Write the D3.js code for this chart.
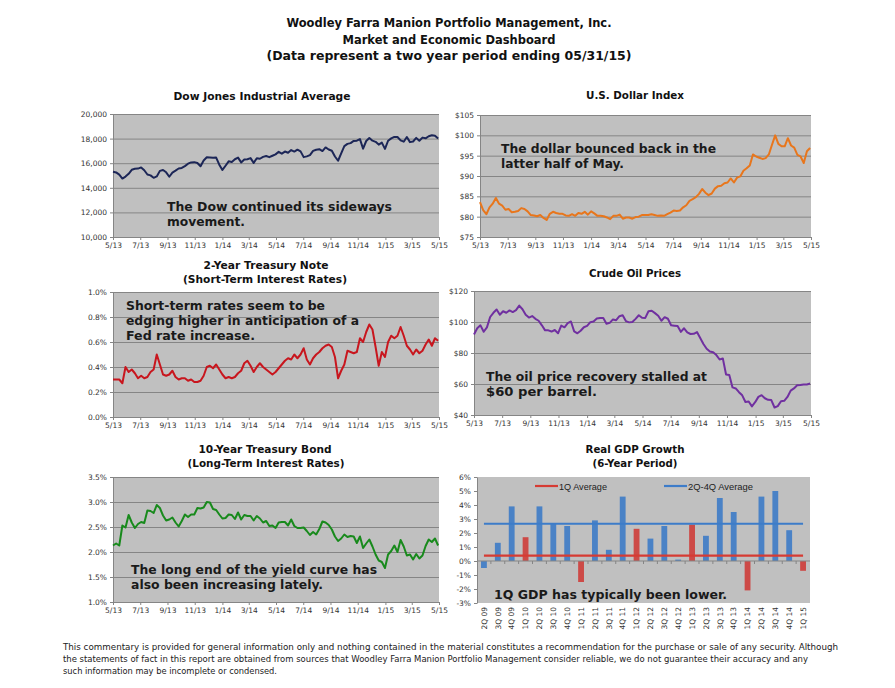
<!DOCTYPE html>
<html>
<head>
<meta charset="utf-8">
<script src="https://cdn.jsdelivr.net/npm/d3@7"></script>
<style>
  body { margin: 0; background: #fff; }
  text { font-family: "DejaVu Sans", Verdana, sans-serif; }
</style>
</head>
<body>
<svg id="dash" width="895" height="688"></svg>
<script>
// weekly closes, Friday 5/31/13 through Friday 5/29/15
let dowValues = [15300, 15250, 15070, 14750, 14910, 15136, 15464, 15543, 15560, 15658,
  15425, 15081, 15010, 14810, 14922, 15376, 15452, 15258, 14900, 15237,
  15399, 15570, 15615, 15762, 15961, 16064, 16086, 16020, 15755, 16221,
  16479, 16469, 16437, 16458, 15879, 15450, 15794, 16154, 16103, 16321,
  16452, 16065, 16302, 16323, 16412, 16027, 16408, 16361, 16512, 16583,
  16491, 16606, 16717, 16924, 16776, 16947, 16851, 17068, 16944, 17100,
  16961, 16493, 16553, 16663, 17001, 17098, 17137, 16988, 17280, 17113,
  17009, 16544, 16200, 16805, 17391, 17573, 17634, 17810, 17828, 17958,
  17180, 17805, 18053, 17833, 17737, 17511, 17673, 17165, 17825, 18019,
  18140, 18133, 17856, 17749, 18128, 17713, 17763, 18058, 17826, 18080,
  18024, 18191, 18272, 18232, 18011];

let dollarValues = [83.6, 81.6, 80.6, 82.3, 83.2, 84.6, 83.2, 82.7, 81.7, 81.9,
  81.1, 81.2, 81.4, 82.1, 81.9, 81.3, 80.4, 80.3, 80.1, 80.4,
  79.7, 79.2, 80.7, 81.2, 80.9, 80.7, 80.7, 80.3, 80.2, 80.6,
  80.2, 80.9, 80.7, 81.2, 80.5, 81.3, 80.8, 80.2, 80.2, 80.1,
  79.8, 79.4, 80.2, 80.2, 80.5, 79.5, 79.8, 79.8, 79.5, 79.9,
  80.0, 80.4, 80.4, 80.4, 80.6, 80.4, 80.2, 80.3, 80.2, 80.6,
  81.0, 81.5, 81.4, 81.5, 82.3, 82.8, 83.9, 84.3, 84.8, 85.6,
  86.8, 85.9, 85.3, 85.7, 86.9, 87.5, 87.6, 88.2, 88.4, 89.4,
  88.4, 89.6, 89.9, 91.3, 91.9, 92.6, 95.3, 94.8, 94.5, 94.2,
  94.4, 95.3, 97.7, 100.0, 97.9, 97.3, 97.3, 99.3, 97.5, 97.0,
  95.2, 94.8, 93.2, 96.1, 96.9];

let twoYearValues = [0.30, 0.30, 0.30, 0.27, 0.40, 0.36, 0.38, 0.35, 0.31, 0.33,
  0.31, 0.32, 0.36, 0.38, 0.50, 0.42, 0.34, 0.33, 0.34, 0.37,
  0.32, 0.30, 0.31, 0.31, 0.29, 0.30, 0.28, 0.28, 0.29, 0.33,
  0.40, 0.41, 0.39, 0.42, 0.38, 0.34, 0.31, 0.32, 0.31, 0.32,
  0.35, 0.37, 0.43, 0.45, 0.41, 0.36, 0.40, 0.43, 0.40, 0.38,
  0.36, 0.34, 0.36, 0.39, 0.42, 0.45, 0.47, 0.46, 0.50, 0.47,
  0.50, 0.55, 0.46, 0.42, 0.47, 0.50, 0.52, 0.55, 0.57, 0.58,
  0.56, 0.48, 0.31, 0.37, 0.42, 0.53, 0.52, 0.51, 0.52, 0.63,
  0.60, 0.68, 0.74, 0.70, 0.56, 0.41, 0.52, 0.48, 0.60, 0.65,
  0.63, 0.65, 0.72, 0.65, 0.57, 0.54, 0.50, 0.54, 0.51, 0.53,
  0.58, 0.62, 0.57, 0.63, 0.61];

let oilValues = [91.97, 96.00, 97.85, 93.69, 96.56, 103.22, 105.95, 108.05, 104.70, 106.94,
  105.97, 107.46, 106.42, 107.65, 110.53, 108.21, 104.67, 102.87, 103.84, 102.02,
  100.81, 97.85, 94.61, 94.60, 93.84, 94.84, 92.72, 97.65, 96.60, 99.32,
  100.32, 93.96, 92.72, 94.37, 96.64, 97.49, 99.88, 100.30, 102.20, 102.59,
  102.58, 98.89, 99.46, 101.67, 101.14, 103.74, 104.30, 100.60, 99.76, 99.99,
  102.02, 104.35, 102.71, 102.66, 106.91, 107.26, 105.74, 104.06, 100.83, 103.13,
  102.09, 97.88, 97.65, 97.35, 93.65, 95.96, 93.29, 92.27, 92.41, 93.54,
  89.74, 85.82, 82.75, 81.01, 80.54, 78.65, 75.82, 76.51, 66.15, 65.84,
  57.81, 57.13, 54.73, 52.69, 48.36, 48.69, 45.59, 48.24, 51.69, 52.78,
  50.81, 49.76, 49.61, 44.84, 45.72, 48.87, 49.14, 51.64, 55.74, 57.15,
  59.15, 59.39, 59.69, 59.72, 60.30];

let tenYearValues = [2.13, 2.17, 2.13, 2.53, 2.49, 2.74, 2.59, 2.48, 2.56, 2.60,
  2.58, 2.83, 2.82, 2.78, 2.94, 2.88, 2.73, 2.63, 2.65, 2.69,
  2.59, 2.51, 2.62, 2.75, 2.70, 2.75, 2.75, 2.88, 2.87, 2.89,
  3.00, 2.99, 2.86, 2.84, 2.75, 2.67, 2.68, 2.75, 2.74, 2.66,
  2.79, 2.65, 2.74, 2.72, 2.72, 2.63, 2.72, 2.67, 2.59, 2.62,
  2.52, 2.53, 2.48, 2.59, 2.60, 2.60, 2.53, 2.65, 2.52, 2.48,
  2.48, 2.49, 2.42, 2.34, 2.40, 2.35, 2.46, 2.61, 2.59, 2.54,
  2.45, 2.31, 2.22, 2.27, 2.35, 2.30, 2.32, 2.31, 2.18, 2.31,
  2.08, 2.17, 2.25, 2.11, 1.95, 1.83, 1.80, 1.68, 1.95, 2.02,
  2.13, 2.00, 2.24, 2.11, 1.93, 1.95, 1.85, 1.96, 1.87, 1.93,
  2.12, 2.25, 2.20, 2.27, 2.13];

// real GDP growth by quarter
let gdpQuarters = ["2Q 09", "3Q 09", "4Q 09", "1Q 10", "2Q 10", "3Q 10", "4Q 10", "1Q 11",
  "2Q 11", "3Q 11", "4Q 11", "1Q 12", "2Q 12", "3Q 12", "4Q 12", "1Q 13",
  "2Q 13", "3Q 13", "4Q 13", "1Q 14", "2Q 14", "3Q 14", "4Q 14", "1Q 15"];
let gdpValues = [-0.5, 1.3, 3.9, 1.7, 3.9, 2.7, 2.5, -1.5,
  2.9, 0.8, 4.6, 2.3, 1.6, 2.5, 0.1, 2.6,
  1.8, 4.5, 3.5, -2.1, 4.6, 5.0, 2.2, -0.7];

// tick labels
let dowTicks = [10000, 12000, 14000, 16000, 18000, 20000];
let dollarTicks = [75, 80, 85, 90, 95, 100, 105];
let twoYearTicks = [0, 0.2, 0.4, 0.6, 0.8, 1.0];
let oilTicks = [40, 60, 80, 100, 120];
let tenYearTicks = [1.0, 1.5, 2.0, 2.5, 3.0, 3.5];
let gdpTicks = [-3, -2, -1, 0, 1, 2, 3, 4, 5, 6];

let startDate = new Date(2013, 4, 31), endDate = new Date(2015, 4, 31);
// month-end labels every two months: 5/13, 7/13 ... 5/15
let dateTicks = d3.range(13).map(function(k) {
  return d3.timeDay.offset(d3.timeMonth.offset(new Date(2013, 5, 1), 2 * k), -1);
});

let svg = d3.select("#dash");
let BG = "#c0c0c0", GRID = "#858585", LABEL = "#333";
let NOTE_FONT = "'DejaVu Sans Condensed', 'DejaVu Sans', sans-serif";
let pct = function(d) { return d.toFixed(1) + "%"; };
let dollars = function(d) { return "$" + d; };

// text helper, squeezes to a measured width when given
function addText(g, x, y, str, size, opts) {
  opts = opts || {};
  let t = g.append("text")
    .attr("x", x).attr("y", y)
    .attr("font-size", size)
    .attr("font-weight", opts.weight || "normal")
    .attr("fill", opts.fill || "#111")
    .attr("text-anchor", opts.anchor || "start")
    .text(str);
  if (opts.family) t.style("font-family", opts.family);
  if (opts.width) t.attr("textLength", opts.width).attr("lengthAdjust", "spacingAndGlyphs");
  return t;
}

// page title
addText(svg, 449, 27, "Woodley Farra Manion Portfolio Management, Inc.", 11.5, {weight: "bold", anchor: "middle", width: 325});
addText(svg, 449, 43.5, "Market and Economic Dashboard", 11.5, {weight: "bold", anchor: "middle", width: 213});
addText(svg, 449, 60, "(Data represent a two year period ending 05/31/15)", 12, {weight: "bold", anchor: "middle", width: 365});

function styleAxis(g) {
  g.selectAll("path").attr("stroke", GRID);
  g.selectAll("line").attr("stroke", GRID);
  g.selectAll("text").attr("fill", LABEL).attr("font-size", 7.5).style("font-family", "'DejaVu Sans', Verdana, sans-serif");
}

function lineChart(cfg) {
  let b = cfg.box;
  let dates = cfg.values.map(function(v, i) { return d3.timeWeek.offset(startDate, i); });

  let x = d3.scaleTime().domain([startDate, endDate]).range([b.left, b.right]);
  let y = d3.scaleLinear().domain(cfg.yDomain).range([b.bottom, b.top]);

  svg.append("rect")
    .attr("x", b.left).attr("y", b.top)
    .attr("width", b.right - b.left).attr("height", b.bottom - b.top)
    .attr("fill", BG);

  // gridlines
  let grid = svg.append("g")
    .attr("transform", `translate(${b.left}, 0)`)
    .call(d3.axisLeft(y).tickValues(cfg.yTicks).tickSize(-(b.right - b.left)).tickFormat(""));
  grid.select(".domain").remove();
  grid.selectAll("line").attr("stroke", GRID);

  let yAxis = svg.append("g")
    .attr("transform", `translate(${b.left}, 0)`)
    .call(d3.axisLeft(y).tickValues(cfg.yTicks).tickSize(3).tickSizeOuter(0).tickFormat(cfg.yFormat));
  styleAxis(yAxis);

  let xAxis = svg.append("g")
    .attr("transform", `translate(0, ${b.bottom})`)
    .call(d3.axisBottom(x).tickValues(dateTicks).tickSize(3).tickSizeOuter(0).tickFormat(d3.timeFormat("%-m/%y")));
  styleAxis(xAxis);

  let line = d3.line()
    .x(function(d, i) { return x(dates[i]); })
    .y(function(d) { return y(d); });

  svg.append("path")
    .datum(cfg.values)
    .attr("d", line)
    .attr("fill", "none")
    .attr("stroke", cfg.color)
    .attr("stroke-width", 2)
    .attr("stroke-linejoin", "round");

  cfg.title.forEach(function(t) {
    addText(svg, t.x, t.y, t.text, 10.5, {weight: "bold", anchor: "middle", fill: "#111", width: t.w});
  });
  cfg.notes.forEach(function(n) {
    addText(svg, n.x, n.y, n.text, 13, {weight: "bold", fill: "#1a1a1a", family: NOTE_FONT, width: n.w});
  });
}

lineChart({
  box: {left: 113, top: 114, right: 439, bottom: 237},
  values: dowValues, yDomain: [10000, 20000], yTicks: dowTicks, yFormat: d3.format(","),
  color: "#1c2657",
  title: [{x: 262, y: 100, text: "Dow Jones Industrial Average", w: 177}],
  notes: [{x: 167, y: 210.5, text: "The Dow continued its sideways", w: 225},
          {x: 167, y: 225.5, text: "movement.", w: 78}]
});

lineChart({
  box: {left: 480, top: 115, right: 811, bottom: 237},
  values: dollarValues, yDomain: [75, 105], yTicks: dollarTicks, yFormat: dollars,
  color: "#e8761c",
  title: [{x: 635, y: 99, text: "U.S. Dollar Index", w: 98}],
  notes: [{x: 501, y: 152.5, text: "The dollar bounced back in the", w: 215},
          {x: 501, y: 167.5, text: "latter half of May.", w: 123}]
});

lineChart({
  box: {left: 113, top: 292, right: 439, bottom: 417},
  values: twoYearValues, yDomain: [0, 1.0], yTicks: twoYearTicks, yFormat: pct,
  color: "#c8161e",
  title: [{x: 266, y: 269, text: "2-Year Treasury Note", w: 125},
          {x: 265, y: 282.5, text: "(Short-Term Interest Rates)", w: 164}],
  notes: [{x: 126, y: 310, text: "Short-term rates seem to be", w: 199},
          {x: 126, y: 325, text: "edging higher in anticipation of a", w: 233},
          {x: 126, y: 340, text: "Fed rate increase.", w: 129}]
});

lineChart({
  box: {left: 474, top: 291, right: 811, bottom: 415},
  values: oilValues, yDomain: [40, 120], yTicks: oilTicks, yFormat: dollars,
  color: "#7030a0",
  title: [{x: 635, y: 277, text: "Crude Oil Prices", w: 92}],
  notes: [{x: 486, y: 381, text: "The oil price recovery stalled at", w: 221},
          {x: 486, y: 396, text: "$60 per barrel.", w: 111}]
});

lineChart({
  box: {left: 113, top: 477, right: 439, bottom: 602},
  values: tenYearValues, yDomain: [1.0, 3.5], yTicks: tenYearTicks, yFormat: pct,
  color: "#188a1c",
  title: [{x: 265, y: 453, text: "10-Year Treasury Bond", w: 133},
          {x: 266, y: 466.5, text: "(Long-Term Interest Rates)", w: 157}],
  notes: [{x: 131, y: 574, text: "The long end of the yield curve has", w: 246},
          {x: 131, y: 589, text: "also been increasing lately.", w: 192}]
});

// ---- Real GDP growth bar chart ----
let gb = {left: 477, top: 477, right: 810, bottom: 603};
let xg = d3.scaleBand().domain(gdpQuarters).range([gb.left, gb.right]).paddingInner(0.58).paddingOuter(0.29);
let yg = d3.scaleLinear().domain([-3, 6]).range([gb.bottom, gb.top]);

svg.append("rect")
  .attr("x", gb.left).attr("y", gb.top)
  .attr("width", gb.right - gb.left).attr("height", gb.bottom - gb.top)
  .attr("fill", BG);

let gdpY = svg.append("g")
  .attr("transform", `translate(${gb.left}, 0)`)
  .call(d3.axisLeft(yg).tickValues(gdpTicks).tickSize(3).tickSizeOuter(0).tickFormat(function(d) { return d + "%"; }));
styleAxis(gdpY);

function isQ1(q) { return q.indexOf("1Q") === 0; }

svg.append("g").selectAll("rect")
  .data(gdpValues)
  .join("rect")
  .attr("x", function(d, i) { return xg(gdpQuarters[i]); })
  .attr("y", function(d) { return yg(Math.max(0, d)); })
  .attr("width", xg.bandwidth())
  .attr("height", function(d) { return Math.abs(yg(d) - yg(0)); })
  .attr("fill", function(d, i) { return isQ1(gdpQuarters[i]) ? "#cd4a47" : "#4a82c6"; });

// zero axis with category ticks
svg.append("line")
  .attr("x1", gb.left).attr("x2", gb.right)
  .attr("y1", yg(0)).attr("y2", yg(0))
  .attr("stroke", GRID);
svg.append("g").selectAll("line")
  .data(gdpQuarters.slice(1))
  .join("line")
  .attr("x1", function(d) { return xg(d) - xg.step() * xg.paddingInner() / 2; })
  .attr("x2", function(d) { return xg(d) - xg.step() * xg.paddingInner() / 2; })
  .attr("y1", yg(0)).attr("y2", yg(0) + 3)
  .attr("stroke", GRID);

// averages
let q1Avg = d3.mean(gdpValues.filter(function(d, i) { return isQ1(gdpQuarters[i]); }));
let restAvg = d3.mean(gdpValues.filter(function(d, i) { return !isQ1(gdpQuarters[i]); }));
let firstX = xg(gdpQuarters[0]) + xg.bandwidth() / 2;
let lastX = xg(gdpQuarters[gdpQuarters.length - 1]) + xg.bandwidth() / 2;
[[restAvg, "#3d7cc9"], [q1Avg, "#d63b33"]].forEach(function(a) {
  svg.append("line")
    .attr("x1", firstX).attr("x2", lastX)
    .attr("y1", yg(a[0])).attr("y2", yg(a[0]))
    .attr("stroke", a[1]).attr("stroke-width", 2.2);
});

// category labels, rotated
svg.append("g").selectAll("text")
  .data(gdpQuarters)
  .join("text")
  .attr("transform", function(d) { return `translate(${xg(d) + xg.bandwidth() / 2 + 2.7}, ${gb.bottom + 4}) rotate(-90)`; })
  .attr("text-anchor", "end")
  .attr("font-size", 7.5)
  .attr("fill", LABEL)
  .text(function(d) { return d; });

// legend
let LEG_FONT = "'Liberation Sans', Arial, sans-serif";
svg.append("line").attr("x1", 535).attr("x2", 558).attr("y1", 486).attr("y2", 486).attr("stroke", "#d63b33").attr("stroke-width", 2.2);
addText(svg, 559, 489.5, "1Q Average", 9.5, {fill: "#222", family: LEG_FONT, width: 48});
svg.append("line").attr("x1", 664).attr("x2", 687).attr("y1", 486).attr("y2", 486).attr("stroke", "#3d7cc9").attr("stroke-width", 2.2);
addText(svg, 688, 489.5, "2Q-4Q Average", 9.5, {fill: "#222", family: LEG_FONT, width: 65});

addText(svg, 635, 453, "Real GDP Growth", 10.5, {weight: "bold", anchor: "middle", width: 99});
addText(svg, 635, 466.5, "(6-Year Period)", 10.5, {weight: "bold", anchor: "middle", width: 85});
addText(svg, 494, 599, "1Q GDP has typically been lower.", 13, {weight: "bold", fill: "#1a1a1a", family: NOTE_FONT, width: 233});

// footer disclaimer
let FOOT_FONT = "'DejaVu Sans Condensed', 'DejaVu Sans', sans-serif";
addText(svg, 63, 650, "This commentary is provided for general information only and nothing contained in the material constitutes a recommendation for the purchase or sale of any security. Although", 8.5, {fill: "#222", family: FOOT_FONT, width: 775});
addText(svg, 63, 662, "the statements of fact in this report are obtained from sources that Woodley Farra Manion Portfolio Management consider reliable, we do not guarantee their accuracy and any", 8.5, {fill: "#222", family: FOOT_FONT, width: 745});
addText(svg, 63, 674, "such information may be incomplete or condensed.", 8.5, {fill: "#222", family: FOOT_FONT, width: 214});
</script>
</body>
</html>
